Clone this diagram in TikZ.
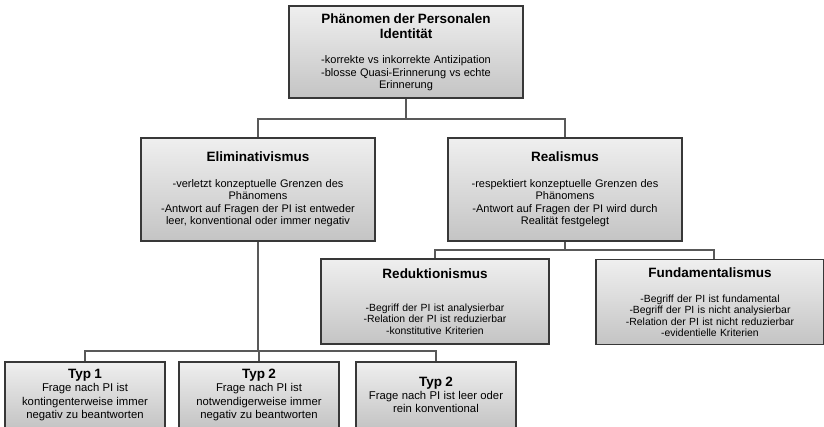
\documentclass[tikz,border=0pt]{standalone}
\usepackage{fontspec}
\setmainfont{Liberation Sans}
\usetikzlibrary{positioning}

\definecolor{boxtop}{HTML}{EFEFEF}
\definecolor{boxbot}{HTML}{C4C4C4}
\definecolor{boxline}{HTML}{383838}
\definecolor{connline}{HTML}{595959}

\newcommand{\headfont}{\fontsize{13.5}{15}\selectfont\bfseries}
\newcommand{\bodyfont}{\fontsize{11}{12.5}\selectfont}
\newcommand{\typfont}{\fontsize{11.3}{13.2}\selectfont}
\newcommand{\smallbody}{\fontsize{10.4}{11.2}\selectfont}

\begin{document}
\begin{tikzpicture}[x=1pt,y=-1pt]
  %----- styles
  \tikzset{
    box/.style   ={draw=boxline,line width=1.6pt,top color=boxtop,bottom color=boxbot,align=center,inner sep=2pt},
    upper/.style ={box,text width=230,minimum height=103},
    lower/.style ={box,text width=224,minimum height=85},
    typbox/.style={box,text width=156,minimum height=66},
    conn/.style  ={draw=connline,line width=1.5pt}
  }

  \useasboundingbox (0,0) rectangle (824,426);
  \clip (0,0) rectangle (824,426);

  %----- nodes
  % root
  \node[upper,minimum height=92] (phen) at (406,52)
    {{\headfont Phänomen der Personalen\\Identität\par}\vspace{13pt}
     {\bodyfont -korrekte vs inkorrekte Antizipation\\-blosse Quasi-Erinnerung vs echte\\Erinnerung\par}};

  % second row
  \node[upper] (elim) at (258,189.5)
    {{\headfont Eliminativismus\par}\vspace{13pt}
     {\bodyfont -verletzt konzeptuelle Grenzen des\\Phänomens\\-Antwort auf Fragen der PI ist entweder\\leer, konventional oder immer negativ\par}};
  \node[upper] (real) at (565,189.5)
    {{\headfont Realismus\par}\vspace{13pt}
     {\bodyfont -respektiert konzeptuelle Grenzen des\\Phänomens\\-Antwort auf Fragen der PI wird durch\\Realität festgelegt\par}};

  % third row (below Realismus)
  \node[lower] (red)  at (435,301.5)
    {{\headfont Reduktionismus\par}\vspace{22pt}
     {\smallbody -Begriff der PI ist analysierbar\\-Relation der PI ist reduzierbar\\-konstitutive Kriterien\par}};
  \node[lower] (fund) at (710,302)
    {{\headfont Fundamentalismus\par}\vspace{14pt}
     {\smallbody -Begriff der PI ist fundamental\\-Begriff der PI is nicht analysierbar\\-Relation der PI ist nicht reduzierbar\\-evidentielle Kriterien\par}};

  % bottom row (below Eliminativismus), cut off by the page
  \node[typbox] (typA) at (85,395)
    {{\headfont Typ 1\par}{\typfont Frage nach PI ist\\kontingenterweise immer\\negativ zu beantworten\par}};
  \node[typbox] (typB) at (259,395)
    {{\headfont Typ 2\par}{\typfont Frage nach PI ist\\notwendigerweise immer\\negativ zu beantworten\par}};
  \node[typbox] (typC) at (436,395)
    {{\headfont Typ 2\par}{\typfont Frage nach PI ist leer oder\\rein konventional\par}};

  %----- connections
  \coordinate (bus1) at (406,119);
  \coordinate (bus2) at (565,250);
  \coordinate (bus3) at (258,351);

  \draw[conn] (phen.south) -- (bus1) -| (elim.north);
  \draw[conn] (bus1) -| (real.north);

  \draw[conn] (real.south) -- (bus2) -| (red.north);
  \draw[conn] (bus2) -| ([xshift=4pt]fund.north);

  \draw[conn] (elim.south) -- (bus3) -| (typA.north);
  \draw[conn] (bus3) -| (typB.north);
  \draw[conn] (bus3) -| (typC.north);
\end{tikzpicture}
\end{document}
